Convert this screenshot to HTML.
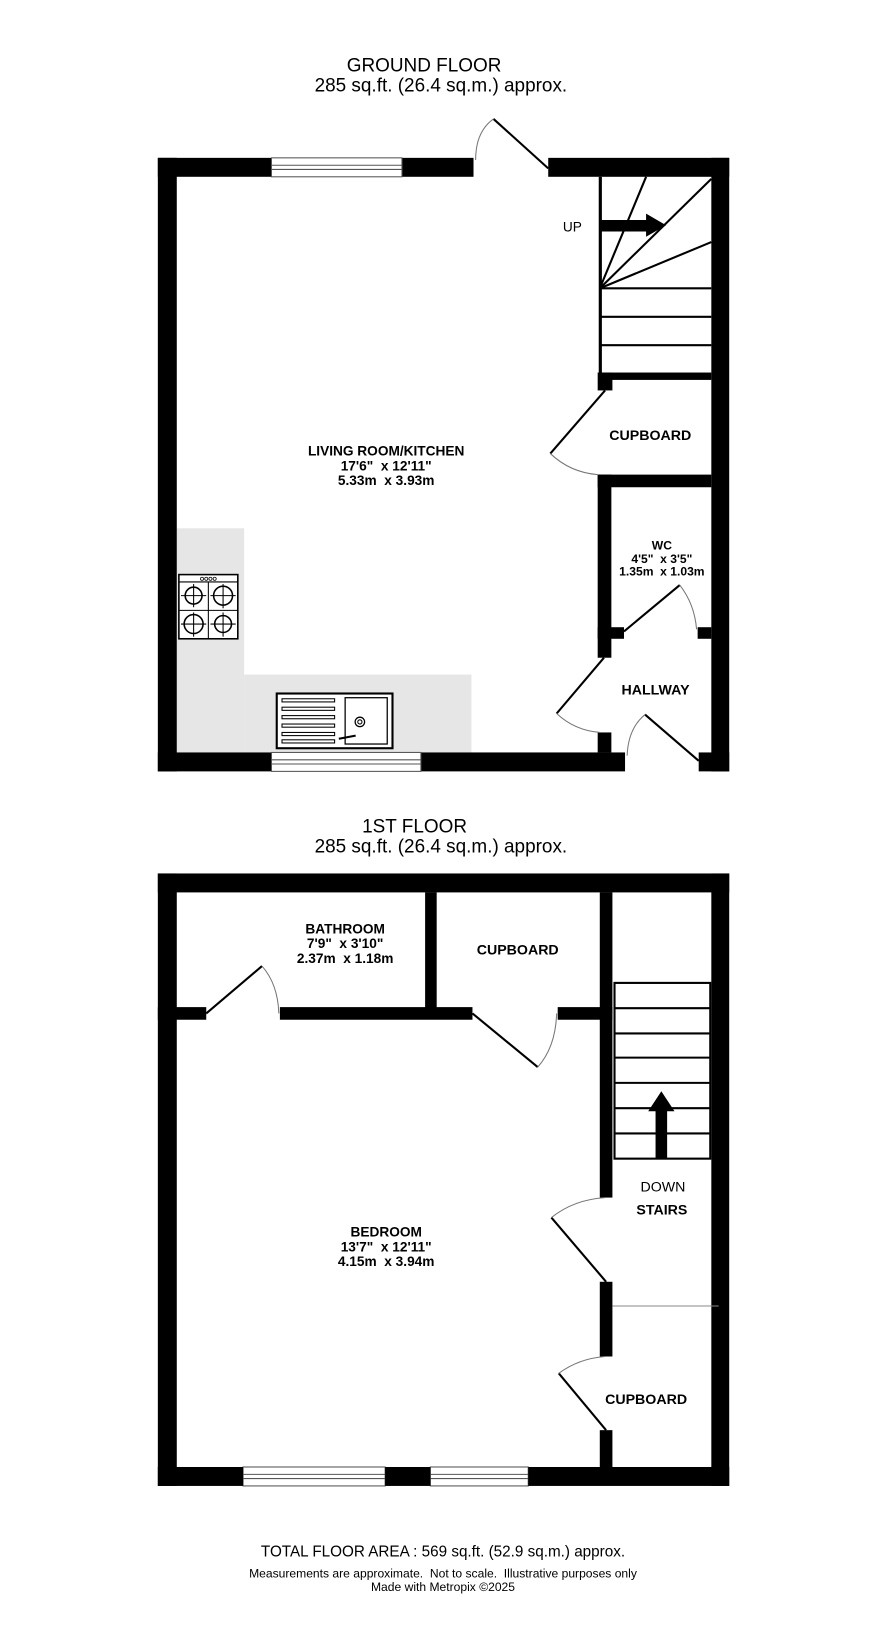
<!DOCTYPE html>
<html><head><meta charset="utf-8"><style>html,body{margin:0;padding:0;background:#fff}svg{display:block}text{white-space:pre}</style></head>
<body>
<svg width="886" height="1648" viewBox="0 0 842 1566" preserveAspectRatio="none" xmlns="http://www.w3.org/2000/svg" font-family="Liberation Sans, sans-serif">
<g text-anchor="middle" fill="#000">
<text x="403" y="68" font-size="18">GROUND FLOOR</text>
<text x="419" y="87" font-size="18">285 sq.ft. (26.4 sq.m.) approx.</text>
<text x="394" y="791" font-size="18">1ST FLOOR</text>
<text x="419" y="810" font-size="18">285 sq.ft. (26.4 sq.m.) approx.</text>
<text x="421" y="1479" font-size="14.5">TOTAL FLOOR AREA : 569 sq.ft. (52.9 sq.m.) approx.</text>
<text x="421" y="1499" font-size="11.5">Measurements are approximate.  Not to scale.  Illustrative purposes only</text>
<text x="421" y="1512" font-size="11.5">Made with Metropix ©2025</text>
</g>
<rect x="168" y="502" width="64" height="213" fill="#e6e6e6"/>
<rect x="232" y="641" width="216" height="74" fill="#e6e6e6"/>
<g fill="#000">
<rect x="150" y="150" width="18" height="583"/>
<rect x="676" y="150" width="17" height="583"/>
<rect x="150" y="150" width="108" height="18"/>
<rect x="382" y="150" width="68" height="18"/>
<rect x="521" y="150" width="172" height="18"/>
<rect x="150" y="715" width="108" height="18"/>
<rect x="400" y="715" width="194" height="18"/>
<rect x="664" y="715" width="29" height="18"/>
<rect x="569" y="168" width="3" height="190"/>
<rect x="569" y="354" width="107" height="7"/>
<rect x="568" y="354" width="14" height="17"/>
<rect x="568" y="451" width="108" height="12"/>
<rect x="568" y="451" width="13" height="174"/>
<rect x="568" y="596" width="25" height="11"/>
<rect x="663" y="596" width="13" height="11"/>
<rect x="568" y="696" width="13" height="19"/>
</g>
<g fill="#fff" stroke="#555" stroke-width="1">
<rect x="258" y="150" width="124" height="18"/><line x1="258" y1="157" x2="382" y2="157"/><line x1="258" y1="161" x2="382" y2="161"/>
<rect x="258" y="715" width="142" height="18"/><line x1="258" y1="722" x2="400" y2="722"/><line x1="258" y1="726" x2="400" y2="726"/>
<rect x="231" y="1394" width="135" height="18"/><line x1="231" y1="1401" x2="366" y2="1401"/><line x1="231" y1="1405" x2="366" y2="1405"/>
<rect x="409" y="1394" width="93" height="18"/><line x1="409" y1="1401" x2="502" y2="1401"/><line x1="409" y1="1405" x2="502" y2="1405"/>
</g>
<g stroke="#000" stroke-width="2" fill="none">
<line x1="570" y1="274" x2="614" y2="168"/>
<line x1="570" y1="274" x2="676" y2="170"/>
<line x1="570" y1="274" x2="676" y2="230"/>
<line x1="570" y1="274" x2="676" y2="274"/>
<line x1="570" y1="301" x2="676" y2="301"/>
<line x1="570" y1="328" x2="676" y2="328"/>
</g>
<polygon points="570,209 614,209 614,203 633,214 614,225 614,220 570,220" fill="#000"/>
<text x="544" y="220" font-size="13" text-anchor="middle">UP</text>
<g stroke="#000" stroke-width="2" fill="none">
<line x1="521" y1="160" x2="469" y2="113"/>
<line x1="575" y1="371" x2="523" y2="431"/>
<line x1="593" y1="600" x2="646" y2="556"/>
<line x1="574" y1="625" x2="529" y2="678"/>
<line x1="664" y1="723" x2="613" y2="679"/>
</g>
<g stroke="#777" stroke-width="1" fill="none">
<path d="M469 113 Q452 125 452 152"/>
<path d="M523 431 Q542 449 568 451"/>
<path d="M646 556 Q660 574 662 598"/>
<path d="M529 678 Q546 694 570 696"/>
<path d="M613 679 Q597 692 596 718"/>
</g>
<g stroke="#000" fill="none">
<rect x="170" y="546" width="56" height="61" stroke-width="1.5" fill="#fff"/>
<line x1="170" y1="553" x2="226" y2="553"/>
<line x1="198" y1="553" x2="198" y2="607"/>
<line x1="170" y1="580" x2="226" y2="580"/>
<circle cx="184" cy="566" r="8" stroke-width="1.5"/><circle cx="212" cy="566" r="9" stroke-width="1.5"/>
<circle cx="184" cy="593" r="9" stroke-width="1.5"/><circle cx="212" cy="593" r="8" stroke-width="1.5"/>
<g stroke-width="1"><line x1="172" y1="566" x2="196" y2="566"/><line x1="184" y1="555" x2="184" y2="577"/><line x1="200" y1="566" x2="224" y2="566"/><line x1="212" y1="555" x2="212" y2="578"/><line x1="172" y1="593" x2="196" y2="593"/><line x1="184" y1="582" x2="184" y2="605"/><line x1="200" y1="593" x2="224" y2="593"/><line x1="212" y1="582" x2="212" y2="605"/></g>
<g stroke-width="0.7"><circle cx="192" cy="550" r="1.5"/><circle cx="196" cy="550" r="1.5"/><circle cx="200" cy="550" r="1.5"/><circle cx="204" cy="550" r="1.5"/></g>
</g>
<g stroke="#000" fill="none">
<rect x="263" y="659" width="110" height="52" stroke-width="2" fill="#fff"/>
<rect x="328" y="663" width="40" height="44" stroke-width="1.2"/>
<g stroke-width="1"><rect x="268" y="664" width="50" height="3"/><rect x="268" y="672" width="50" height="3"/><rect x="268" y="680" width="50" height="3"/><rect x="268" y="688" width="50" height="3"/><rect x="268" y="696" width="50" height="3"/><rect x="268" y="703" width="50" height="3"/></g>
<circle cx="342" cy="686" r="4.5" stroke-width="1.2"/><circle cx="342" cy="686" r="2"/>
<path d="M322 702 L338 699" stroke-width="2"/>
</g>
<g font-weight="bold" text-anchor="middle" font-size="13">
<text x="367" y="433">LIVING ROOM/KITCHEN</text>
<text x="367" y="447">17'6"  x 12'11"</text>
<text x="367" y="461">5.33m  x 3.93m</text>
<text x="618" y="418" font-size="13.5">CUPBOARD</text>
<text x="629" y="522" font-size="11.5">WC</text>
<text x="629" y="535" font-size="11.5">4'5"  x 3'5"</text>
<text x="629" y="547" font-size="11.5">1.35m  x 1.03m</text>
<text x="623" y="660" font-size="13.5">HALLWAY</text>
</g>
<g fill="#000">
<rect x="150" y="830" width="543" height="18"/>
<rect x="150" y="830" width="18" height="582"/>
<rect x="676" y="830" width="17" height="582"/>
<rect x="150" y="1394" width="81" height="18"/>
<rect x="366" y="1394" width="43" height="18"/>
<rect x="502" y="1394" width="191" height="18"/>
<rect x="404" y="848" width="11" height="115"/>
<rect x="150" y="957" width="46" height="12"/>
<rect x="266" y="957" width="183" height="12"/>
<rect x="530" y="957" width="52" height="12"/>
<rect x="570" y="848" width="12" height="290"/>
<rect x="570" y="1218" width="12" height="71"/>
<rect x="570" y="1359" width="12" height="35"/>
</g>
<g stroke="#000" stroke-width="2" fill="none">
<rect x="584" y="934" width="91" height="167"/>
<line x1="584" y1="958" x2="675" y2="958"/><line x1="584" y1="982" x2="675" y2="982"/><line x1="584" y1="1005" x2="675" y2="1005"/>
<line x1="584" y1="1029" x2="675" y2="1029"/><line x1="584" y1="1053" x2="675" y2="1053"/><line x1="584" y1="1077" x2="675" y2="1077"/>
<line x1="196" y1="963" x2="249" y2="918"/>
<line x1="449" y1="963" x2="511" y2="1014"/>
<line x1="576" y1="1218" x2="524" y2="1157"/>
<line x1="576" y1="1359" x2="531" y2="1305"/>
</g>
<polygon points="623,1101 634,1101 634,1056 641,1056 628.5,1037 616,1056 623,1056" fill="#000"/>
<line x1="582" y1="1241" x2="683" y2="1241" stroke="#888" stroke-width="1"/>
<g stroke="#777" stroke-width="1" fill="none">
<path d="M249 918 Q264 935 265 963"/>
<path d="M511 1014 Q528 995 529 963"/>
<path d="M524 1157 Q545 1140 575 1138"/>
<path d="M531 1305 Q550 1291 575 1289"/>
</g>
<g font-weight="bold" text-anchor="middle" font-size="13">
<text x="328" y="887">BATHROOM</text>
<text x="328" y="901">7'9"  x 3'10"</text>
<text x="328" y="915">2.37m  x 1.18m</text>
<text x="492" y="907" font-size="13.5">CUPBOARD</text>
<text x="367" y="1175">BEDROOM</text>
<text x="367" y="1189">13'7"  x 12'11"</text>
<text x="367" y="1203">4.15m  x 3.94m</text>
<text x="629" y="1154" font-size="13.5">STAIRS</text>
<text x="614" y="1334" font-size="13.5">CUPBOARD</text>
</g>
<text x="630" y="1132" font-size="13.5" text-anchor="middle">DOWN</text>
</svg>
</body></html>
